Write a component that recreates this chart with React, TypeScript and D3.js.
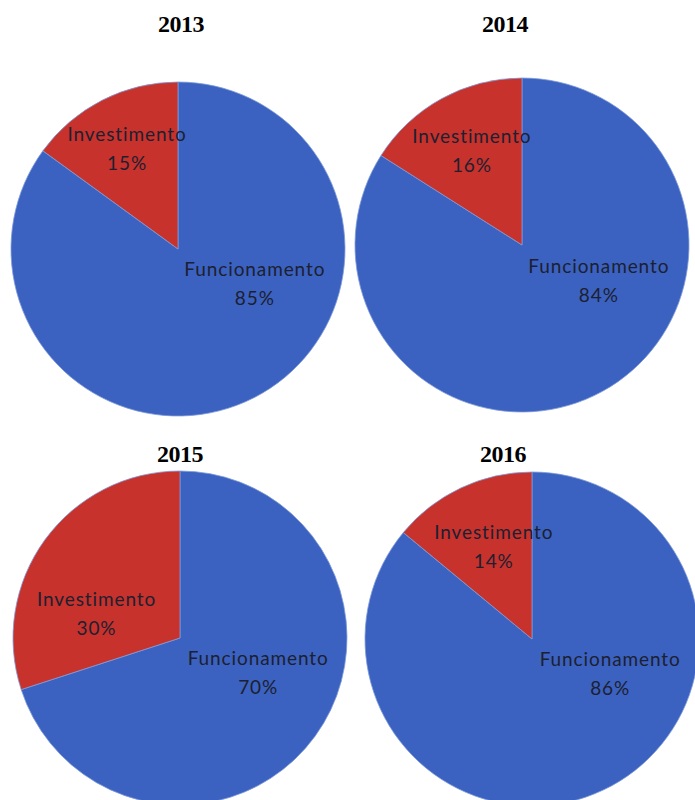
import React from "react";
import * as d3 from "d3";

// ---- data ----
const years = ["2013", "2014", "2015", "2016"];
const categories = ["Funcionamento", "Investimento"];
const funcionamento = [85, 84, 70, 86];
const investimento = [15, 16, 30, 14];

// ---- layout (not data) ----
const W = 695;
const H = 800;
const panelCenters = [
  [178, 249],
  [522, 245],
  [180, 638],
  [532, 639],
];
const titlePos = [
  [181, 32],
  [505, 32],
  [180, 462],
  [503, 462],
];
const radius = 167;
// label block centres relative to pie centre, in radius units
const labelOffsets = [
  [[0.46, 0.216], [-0.305, -0.593]],
  [[0.46, 0.22], [-0.3, -0.557]],
  [[0.468, 0.216], [-0.5, -0.139]],
  [[0.468, 0.216], [-0.229, -0.542]],
];
const colors = ["#3b62c1", "#c7322d"];
const labelColor = "#1c2030";

export default function App() {
  const pie = d3
    .pie<{ cat: string; value: number }>()
    .sort(null)
    .value((d) => d.value);
  const arc = d3
    .arc<d3.PieArcDatum<{ cat: string; value: number }>>()
    .innerRadius(0)
    .outerRadius(radius);
  const color = d3.scaleOrdinal<string, string>().domain(categories).range(colors);
  const fmt = d3.format(".0%");

  return (
    <svg
      width={W}
      height={H}
      style={{ position: "absolute", left: 0, top: 0, background: "#fff" }}
    >
      {years.map((y, i) => {
        const data = [
          { cat: categories[0], value: funcionamento[i] },
          { cat: categories[1], value: investimento[i] },
        ];
        const total = d3.sum(data, (d) => d.value);
        const arcs = pie(data);
        const [cx, cy] = panelCenters[i];
        return (
          <g key={y}>
            <text
              x={titlePos[i][0]}
              y={titlePos[i][1]}
              textAnchor="middle"
              fontFamily="'Liberation Serif', serif"
              fontWeight="bold"
              fontSize={24}
              letterSpacing={-0.5}
              fill="#000"
            >
              {y}
            </text>
            <g transform={`translate(${cx},${cy})`}>
              {arcs.map((a) => (
                <path
                  key={a.data.cat}
                  d={arc(a) || ""}
                  fill={color(a.data.cat)}
                  stroke="#7f9ad8"
                  strokeWidth={0.8}
                />
              ))}
              {arcs.map((a, j) => {
                const [ox, oy] = labelOffsets[i][j];
                const lx = ox * radius;
                const ly = oy * radius;
                return (
                  <text
                    key={"l" + a.data.cat}
                    textAnchor="middle"
                    fontFamily="Lato, 'Liberation Sans', sans-serif"
                    fontSize={19}
                    letterSpacing={0.9}
                    fill={labelColor}
                  >
                    <tspan x={lx} y={ly - 14} dominantBaseline="middle">
                      {a.data.cat}
                    </tspan>
                    <tspan x={lx} y={ly + 15} dominantBaseline="middle">
                      {fmt(a.data.value / total)}
                    </tspan>
                  </text>
                );
              })}
            </g>
          </g>
        );
      })}
    </svg>
  );
}
